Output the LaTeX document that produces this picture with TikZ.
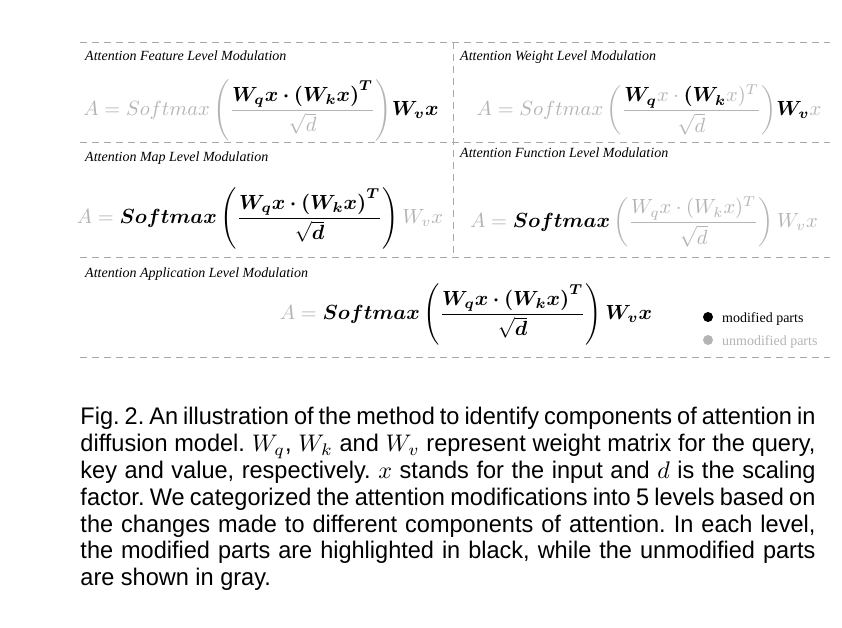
\documentclass[tikz,border=0pt]{standalone}
\usepackage{amsmath,bm}
\usepackage{fontspec}
\newfontfamily\capfont[FakeStretch=0.98]{Liberation Sans}
\newfontfamily\tnr{Liberation Serif}
\definecolor{lg}{HTML}{B4B4B4}
\definecolor{dashc}{HTML}{A8A8A8}
\tikzset{
  sepline/.style={draw=dashc, line width=1pt, dash pattern=on 7pt off 5pt},
  ttl/.style={anchor=base west, inner sep=0pt, font=\tnr\itshape\fontsize{14}{16}\selectfont},
  eqn/.style={inner sep=0pt, scale=2.05, transform shape},
  leg/.style={anchor=base west, inner sep=0pt, font=\tnr\fontsize{14}{16}\selectfont},
  dot/.style={circle, inner sep=0pt, minimum size=10pt},
}
\begin{document}
\begin{tikzpicture}[x=1pt, y=-1pt]
\useasboundingbox[fill=white] (0,0) rectangle (842,627);
% separators
\coordinate (l0) at (80,42);  \coordinate (r0) at (830,42);
\coordinate (l1) at (80,142); \coordinate (r1) at (830,142);
\coordinate (l2) at (80,257); \coordinate (r2) at (830,257);
\coordinate (l3) at (80,357); \coordinate (r3) at (830,357);
\coordinate (vt) at (453,42); \coordinate (vb) at (453,257);
\draw[sepline] (l0) -- (r0);
\draw[sepline] (l1) -- (r1);
\draw[sepline] (l2) -- (r2);
\draw[sepline] (l3) -- (r3);
\draw[sepline] (vt) -- (vb);
% titles
\node[ttl] (t1) at (85,60) {Attention Feature Level Modulation};
\node[ttl] (t2) at (460,60) {Attention Weight Level Modulation};
\node[ttl] (t3) at (85,161) {Attention Map Level Modulation};
\node[ttl] (t4) at (460,157) {Attention Function Level Modulation};
\node[ttl] (t5) at (85,277) {Attention Application Level Modulation};
% formulas
\node[eqn] (e1) at (261,110) {$\displaystyle {\color{lg}A} \mathrel{\color{lg}=} {\color{lg}Softmax\left(\frac{\color{black}\bm{W_q x\cdot(W_k x)^T}}{\sqrt{d}}\right)}\bm{W_v x}$};
\node[eqn] (e2) at (649,110) {$\displaystyle {\color{lg}A} \mathrel{\color{lg}=} {\color{lg}Softmax\left(\frac{\color{black}\bm{W_q}{\color{lg}x}\mathbin{\color{lg}\cdot}\bm{(W_k}{\color{lg}x)^T}}{\sqrt{d}}\right)}\bm{W_v}{\color{lg}x}$};
\node[eqn] (e3) at (260,218) {$\displaystyle {\color{lg}A} \mathrel{\color{lg}=} \bm{Softmax}\left(\frac{\bm{W_q x\cdot(W_k x)^T}}{\sqrt{\bm{d}}}\right){\color{lg}W_v x}$};
\node[eqn] (e4) at (644,222) {$\displaystyle {\color{lg}A} \mathrel{\color{lg}=} \bm{Softmax}\,{\color{lg}\left(\frac{W_q x\cdot(W_k x)^T}{\sqrt{d}}\right) W_v x}$};
\node[eqn] (e5) at (466,314) {$\displaystyle {\color{lg}A} \mathrel{\color{lg}=} \bm{Softmax}\left(\frac{\bm{W_q x\cdot(W_k x)^T}}{\sqrt{\bm{d}}}\right)\bm{W_v x}$};
% legend
\node[dot, fill=black] (d1) at (708,317) {};
\node[leg] (m1) at (722,322) {modified parts};
\node[dot, fill=lg] (d2) at (708,340) {};
\node[leg, text=lg] (m2) at (722,345) {unmodified parts};
% caption
\node[anchor=north west, inner sep=0pt, scale=2.4, transform shape, text width=306.25pt, align=justify,
      font=\capfont\fontsize{10}{11.17}\selectfont\frenchspacing] (cap) at (80,407)
{Fig.~2. An illustration of the method to identify components of attention in\linebreak
diffusion model. $W_q$, $W_k$ and $W_v$ represent weight matrix for the query,\linebreak
key and value, respectively. $x$ stands for the input and $d$ is the scaling\linebreak
factor. We categorized the attention modifications into 5 levels based on\linebreak
the changes made to different components of attention. In each level,\linebreak
the modified parts are highlighted in black, while the unmodified parts\linebreak
are shown in gray.};
\end{tikzpicture}
\end{document}
